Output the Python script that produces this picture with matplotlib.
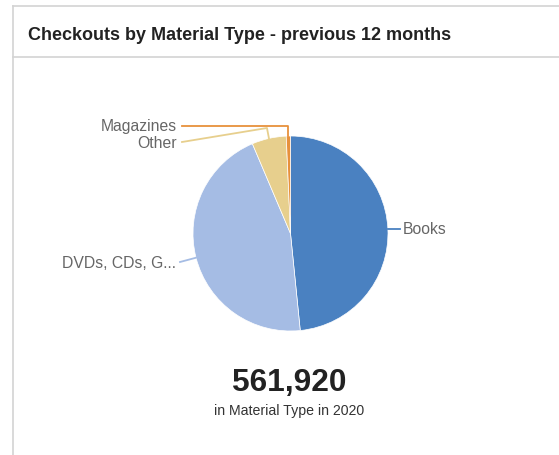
import matplotlib.pyplot as plt
import numpy as np

plt.rcParams['font.family'] = ['Liberation Sans', 'DejaVu Sans']

# checkouts per material type (clockwise from 12 o'clock)
categories = ['Books', 'DVDs, CDs, G...', 'Other', 'Magazines']
checkouts = [272000, 254000, 32000, 3920]
colors = ['#4a81c1', '#a5bce4', '#e7cf8d', '#e7913c']
total_label = '561,920'
subtitle = 'in Material Type in 2020'

W, H = 559, 456
fig = plt.figure(figsize=(W / 100, H / 100), dpi=100)
ax = fig.add_axes([0, 0, 1, 1])
ax.set_xlim(0, W)
ax.set_ylim(0, H)
ax.set_aspect('equal')
ax.axis('off')


def Y(y):
    # pixel rows counted from the top
    return H - y


# card frame and header divider
border = '#d3d3d3'
ax.plot([12.5, 12.5], [Y(6.5), 0], color=border, lw=1.2)
ax.plot([12.5, W], [Y(6.5), Y(6.5)], color=border, lw=1.2)
ax.plot([12.5, W], [Y(57.5), Y(57.5)], color=border, lw=1.2)
ax.text(28, Y(35), 'Checkouts by Material Type - previous 12 months',
        fontsize=13.0, fontweight='bold', color='#222222', ha='left', va='center')

cx, cy, r = 290.5, Y(234.5), 97.5
wedges, _ = ax.pie(checkouts, colors=colors, startangle=90, counterclock=False,
                   center=(cx, cy), radius=r,
                   wedgeprops=dict(edgecolor='white', linewidth=0.5))
ax.set_xlim(0, W)
ax.set_ylim(0, H)


def anchor(w):
    a = np.deg2rad((w.theta1 + w.theta2) / 2)
    return cx + r * np.cos(a), cy + r * np.sin(a)


lab_kw = dict(fontsize=11.3, color='#666666', va='center')
lw = 1.3

# Books
bx, by = anchor(wedges[0])
ax.plot([bx, bx + 12], [by, by], color=colors[0], lw=lw)
ax.text(bx + 15, by, categories[0], ha='left', **lab_kw)

# DVDs
dx, dy = anchor(wedges[1])
ax.plot([dx, 180], [dy, Y(263)], color=colors[1], lw=lw)
ax.text(176, Y(263), categories[1], ha='right', **lab_kw)

# Other
ox, oy = anchor(wedges[2])
ax.plot([ox, ox - 2, 182], [oy, Y(129), Y(143)], color=colors[2], lw=lw)
ax.text(177, Y(143), categories[2], ha='right', **lab_kw)

# Magazines
mx, my = anchor(wedges[3])
ax.plot([mx, mx, 182], [my, Y(126.5), Y(126.5)], color=colors[3], lw=lw)
ax.text(177, Y(127), categories[3], ha='right', **lab_kw)

ax.text(289, Y(383), total_label, fontsize=22.8, fontweight='bold',
        color='#222222', ha='center', va='center')
ax.text(289, Y(411), subtitle, fontsize=10.2, color='#333333',
        ha='center', va='center')

fig.savefig('out.png', dpi=100)
plt.close(fig)
